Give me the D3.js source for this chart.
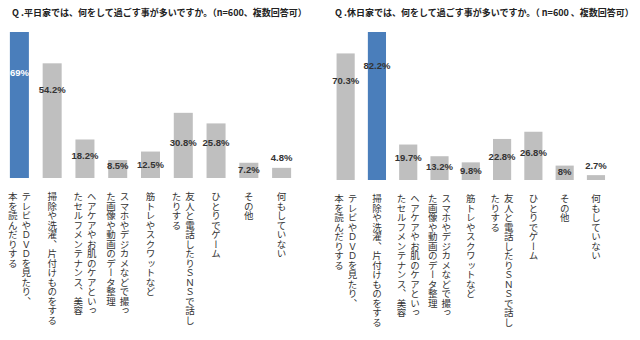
<!DOCTYPE html>
<html><head><meta charset="utf-8">
<script src="https://cdn.jsdelivr.net/npm/d3@7"></script>
<style>
html,body{margin:0;padding:0;background:#fff;}
svg{display:block;font-family:"Noto Sans CJK JP","Noto Sans",sans-serif;}
</style></head>
<body><svg id="c" width="640" height="340"></svg>
<script>
const categories = [
  "テレビやＤＶＤを見たり、\n本を読んだりする",
  "掃除や洗濯、片付けものをする",
  "ヘアケアやお肌のケアといっ\nたセルフメンテナンス、美容",
  "スマホやデジカメなどで撮っ\nた画像や動画のデータ整理",
  "筋トレやスクワットなど",
  "友人と電話したりＳＮＳで話し\nたりする",
  "ひとりでゲーム",
  "その他",
  "何もしていない"
];
const weekdayValues = [69, 54.2, 18.2, 8.5, 12.5, 30.8, 25.8, 7.2, 4.8];
const holidayValues = [70.3, 82.2, 19.7, 13.2, 9.8, 22.8, 26.8, 8, 2.7];
const weekdayLabelAt = [49.6, 41.6, 10.4, 5.7, 6.1, 16.5, 16.5, 3.8, 9.5];
const holidayLabelAt = [55, 63.3, 12.2, 7.2, 5, 12.8, 15, 4.4, 7.8];
const weekdayHighlight = 0;
const holidayHighlight = 1;
const titles = [
  "Q .平日家では、何をして過ごす事が多いですか。（n=600、複数回答可）",
  "Q .休日家では、何をして過ごす事が多いですか。（ n=600 、複数回答可）"
];

const svg = d3.select("#c");
const panels = [
  {values: weekdayValues, labelAt: weekdayLabelAt, hi: weekdayHighlight, title: titles[0],
   xr: [3, 298], base: 178, top: 32, tx: 12, hiLabel: "#ffffff"},
  {values: holidayValues, labelAt: holidayLabelAt, hi: holidayHighlight, title: titles[1],
   xr: [330, 611.6], base: 180, top: 32, tx: 335, hiLabel: "#333333"}
];

panels.forEach(p => {
  const x = d3.scaleBand().domain(categories.map((c,i)=>i)).range(p.xr).paddingInner(0.42).paddingOuter(0.21);
  const y = d3.scaleLinear().domain([0, d3.max(p.values)]).range([p.base, p.top]);
  const g = svg.append("g");
  g.append("text").attr("x", p.tx).attr("y", 15.5)
    .attr("font-size", "9px").attr("font-weight", "bold").attr("fill", "#222")
    .text(p.title);
  g.selectAll("rect").data(p.values).join("rect")
    .attr("x", (d,i)=>x(i)).attr("width", x.bandwidth())
    .attr("y", d=>y(d)).attr("height", d=>p.base - y(d))
    .attr("fill", (d,i)=> i===p.hi ? "#4a7ebb" : "#bfbfbf");
  g.selectAll("text.v").data(p.values).join("text").attr("class","v")
    .attr("x", (d,i)=>x(i)+x.bandwidth()/2)
    .attr("y", (d,i)=>y(p.labelAt[i]))
    .attr("dy", "0.35em")
    .attr("text-anchor","middle")
    .attr("font-family","'Liberation Sans',Arial,sans-serif")
    .attr("font-size","9.5px").attr("font-weight","bold")
    .attr("fill", (d,i)=> i===p.hi ? p.hiLabel : "#333")
    .text(d=>d+"%");
  categories.forEach((c,i) => {
    const lines = c.split("\n");
    const cx = x(i)+x.bandwidth()/2;
    const gap = 13.5;
    lines.forEach((ln,j) => {
      g.append("text")
        .attr("x", cx + (lines.length-1)/2*gap - j*gap)
        .attr("y", p.base + 14)
        .style("writing-mode","vertical-rl")
        .attr("font-size","9.5px")
        .attr("fill","#333")
        .text(ln);
    });
  });
});
</script></body></html>
